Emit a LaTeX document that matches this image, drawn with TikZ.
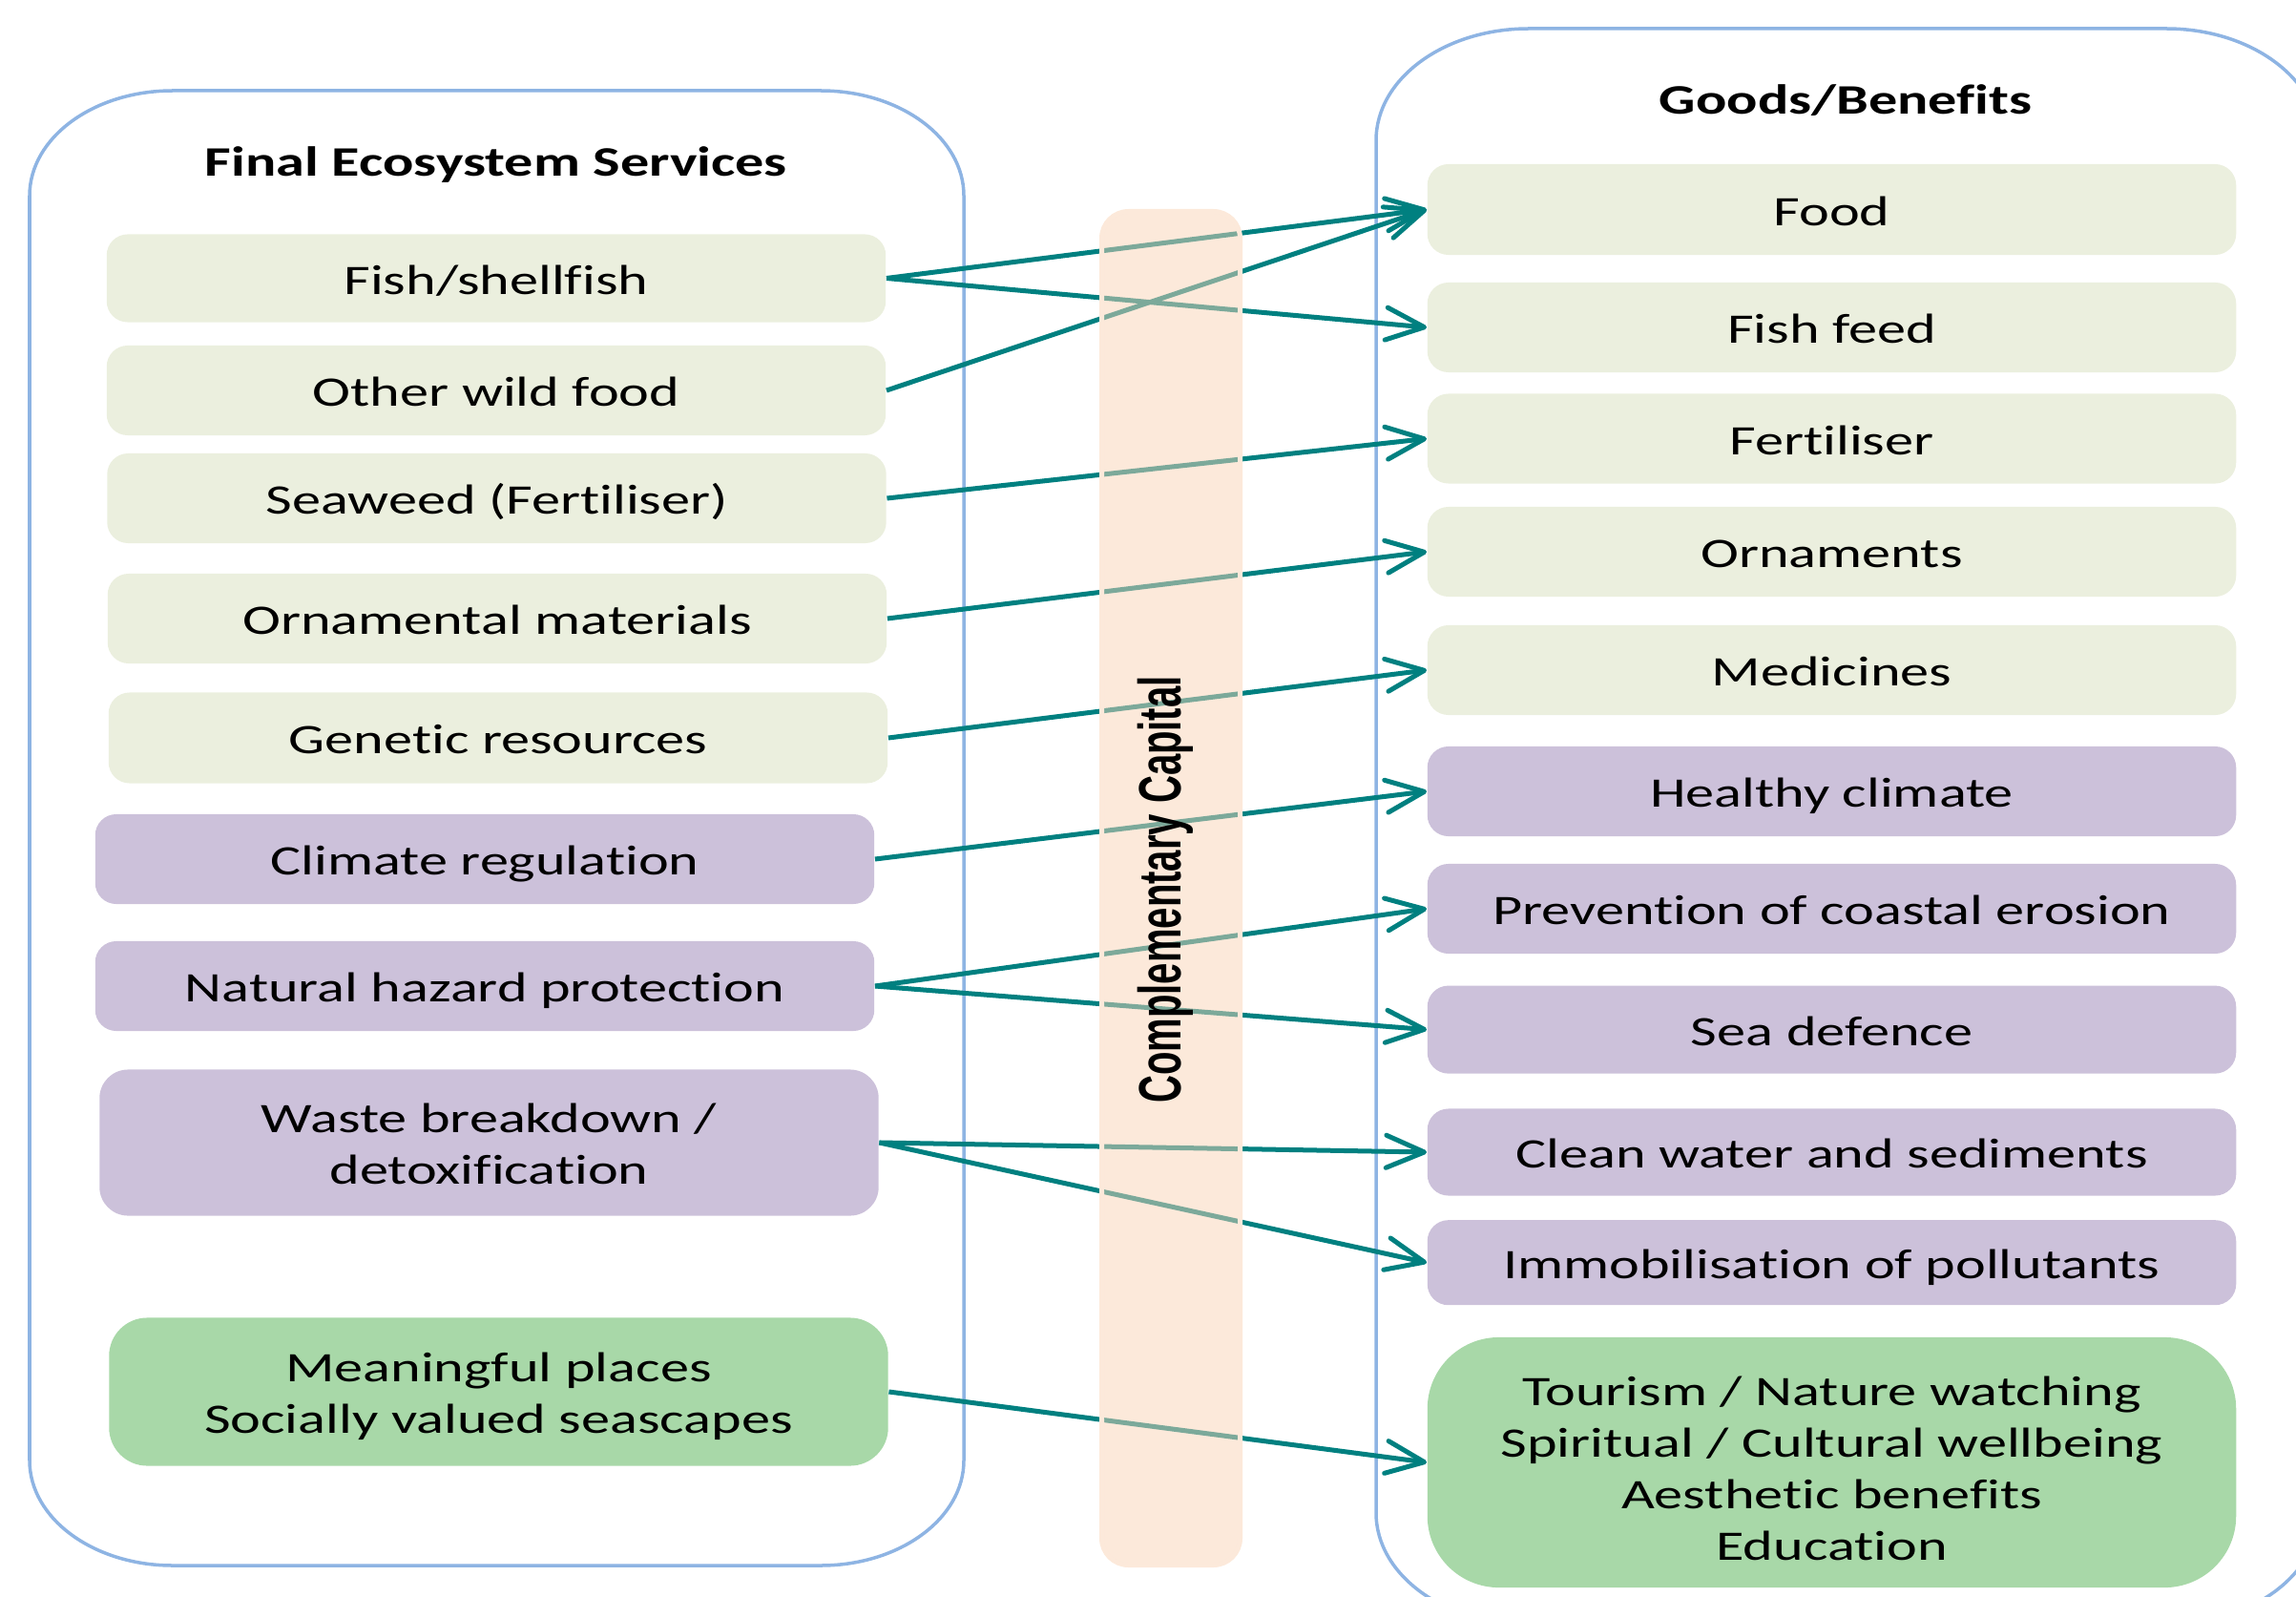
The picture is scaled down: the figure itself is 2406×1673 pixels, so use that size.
\documentclass[tikz,border=0pt]{standalone}
\usepackage{fontspec}
\setmainfont[FakeStretch=1.37, Ligatures=NoCommon]{Carlito}
\newfontfamily\barfont[FakeStretch=0.64]{Liberation Sans}
\usetikzlibrary{arrows.meta}

\definecolor{provgreen}{RGB}{235,239,222}
\definecolor{regpurple}{RGB}{204,193,218}
\definecolor{culturegreen}{RGB}{168,216,168}
\definecolor{capitalbar}{RGB}{249,211,181}
\definecolor{capitaledge}{RGB}{252,233,218}
\definecolor{flowteal}{RGB}{0,128,128}
\definecolor{panelblue}{RGB}{142,180,227}

\def\leftpanel{(31,205) arc[start angle=180,end angle=270,x radius=150,y radius=110]
  -- (860,95) arc[start angle=270,end angle=360,x radius=150,y radius=110]
  -- (1010,1530) arc[start angle=0,end angle=90,x radius=150,y radius=110]
  -- (181,1640) arc[start angle=90,end angle=180,x radius=150,y radius=110] -- cycle}
\def\rightpanel{(1442,147) arc[start angle=180,end angle=270,x radius=160,y radius=117]
  -- (2270,30) arc[start angle=270,end angle=360,x radius=160,y radius=117]
  -- (2430,1585) arc[start angle=0,end angle=90,x radius=160,y radius=117]
  -- (1602,1702) arc[start angle=90,end angle=180,x radius=160,y radius=117] -- cycle}
\def\capitalbar{(1154.5,221.5) rectangle (1299.5,1639.5)}

\tikzset{
  box/.style={rounded corners=0.22cm, inner sep=0pt, align=center,
    font=\fontsize{12.5}{15.3}\selectfont, minimum width=8.16cm, minimum height=0.94cm,
    text height=0.40cm, text depth=0.07cm},
  prov/.style={box, fill=provgreen},
  reg/.style={box, fill=regpurple},
  cult/.style={box, fill=culturegreen},
  good/.style={minimum width=8.47cm},
  head/.style={anchor=base, font=\fontsize{12.5}{15.3}\selectfont\bfseries},
  flow/.style={draw=flowteal, line width=0.05cm,
    -{Straight Barb[round, length=0.40cm, width=0.34cm]}}
}

\begin{document}
\begin{tikzpicture}[x=0.01cm, y=-0.01cm]
  \clip (0,0) rectangle (2406,1673);
  \draw[panelblue, line width=0.035cm] \leftpanel;
  \draw[panelblue, line width=0.035cm] \rightpanel;
  \node[head] (fesHead) at (520,185) {Final Ecosystem Services};
  \node[head] (gbHead) at (1934,120) {Goods/Benefits};

  % final ecosystem services
  \node[prov, minimum height=0.92cm] (fish) at (520,291.5) {Fish/shellfish};
  \node[prov] (wildfood) at (520,409) {Other wild food};
  \node[prov] (seaweed) at (520.5,522) {Seaweed (Fertiliser)};
  \node[prov] (ornamental) at (521,648) {Ornamental materials};
  \node[prov, minimum height=0.95cm] (genetic) at (522,773) {Genetic resources};
  \node[reg] (climreg) at (508,900) {Climate regulation};
  \node[reg] (hazard) at (508,1033) {Natural hazard protection};
  \node[reg, minimum height=1.53cm, rounded corners=0.3cm, text height=0.93cm] (waste) at (512.5,1197)
    {Waste breakdown /\\detoxification};
  \node[cult, minimum height=1.55cm, rounded corners=0.4cm, text height=0.93cm] (places) at (522.5,1458)
    {Meaningful places\\Socially valued seascapes};

  % goods and benefits
  \node[prov, good, minimum height=0.95cm] (food) at (1919.5,219.5) {Food};
  \node[prov, good] (feed) at (1919.5,343) {Fish feed};
  \node[prov, good] (fertiliser) at (1919.5,459.5) {Fertiliser};
  \node[prov, good] (ornaments) at (1919.5,578) {Ornaments};
  \node[prov, good] (medicines) at (1919.5,702) {Medicines};
  \node[reg, good] (climate) at (1919.5,829) {Healthy climate};
  \node[reg, good] (erosion) at (1919.5,952) {Prevention of coastal erosion};
  \node[reg, good, minimum height=0.92cm] (seadefence) at (1919.5,1078.6) {Sea defence};
  \node[reg, good, minimum height=0.91cm] (water) at (1919.5,1207) {Clean water and sediments};
  \node[reg, good, minimum height=0.89cm] (pollutants) at (1919.5,1322.7) {Immobilisation of pollutants};
  \node[cult, good, minimum height=2.62cm, rounded corners=0.75cm, text height=2.11cm] (tourism) at (1919.5,1532)
    {Tourism / Nature watching\\Spiritual / Cultural wellbeing\\Aesthetic benefits\\Education};

  \foreach \src/\dst in {fish/food, fish/feed, wildfood/food, seaweed/fertiliser,
      ornamental/ornaments, genetic/medicines, climreg/climate, hazard/erosion,
      hazard/seadefence, waste/water, waste/pollutants, places/tourism}
    \draw[flow] (\src.east) -- (\dst.west);

  % complementary capital
  \draw[capitaledge, line width=0.05cm, fill=capitalbar, fill opacity=0.5,
    rounded corners=0.28cm] \capitalbar;
  \node[rotate=90, inner sep=0pt, font=\barfont\bfseries\fontsize{17.8}{20}\selectfont]
    (capital) at (1221,932) {Complementary Capital};
\end{tikzpicture}
\end{document}
